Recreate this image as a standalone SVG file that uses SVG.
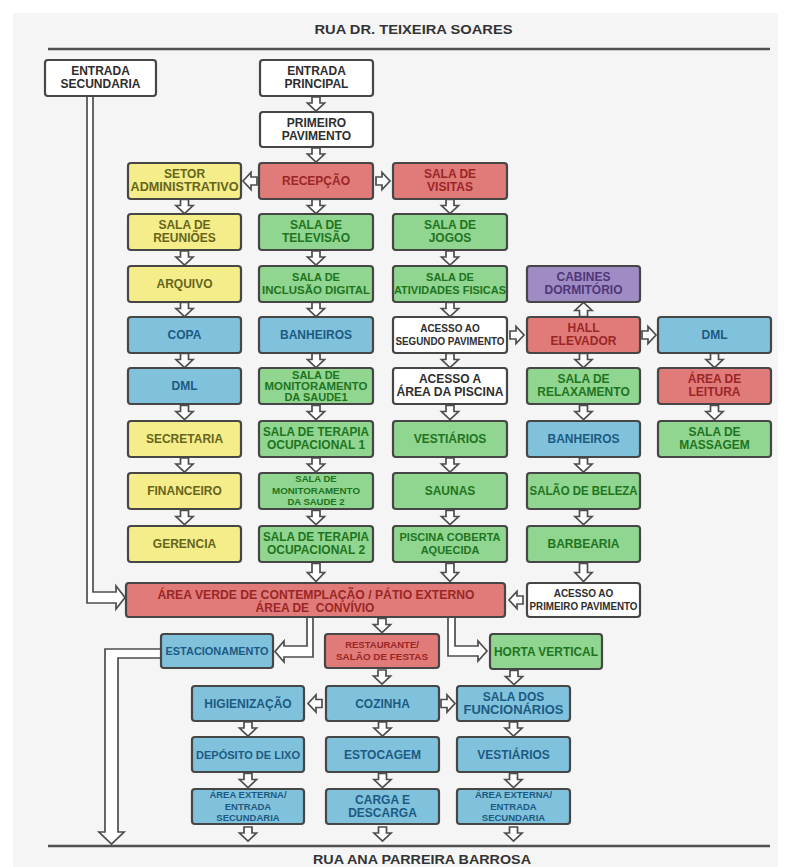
<svg xmlns="http://www.w3.org/2000/svg" xmlns:xlink="http://www.w3.org/1999/xlink" width="809" height="867" viewBox="0 0 809 867">
<style>
.bx{stroke:#464646;stroke-width:2.2}
.Y{fill:#f4ed8a}.R{fill:#e07b79}.G{fill:#90d590}.B{fill:#80c2dc}.P{fill:#a08cc5}.W{fill:#ffffff}
text{font-family:"Liberation Sans",Arial,Helvetica,sans-serif;font-weight:bold;font-size:12px;text-anchor:middle}
.tY{fill:#66651c}.tR{fill:#9a2626}.tG{fill:#1f7420}.tB{fill:#1d5a82}.tP{fill:#4f3678}.tW{fill:#2e2e2e}
.s10{font-size:10px}.s11{font-size:11px}.s95{font-size:9.5px}
.road{stroke:#505050;stroke-width:2.5;fill:none}
.title{font-size:13px;fill:#333}
.cn{fill:#ffffff;stroke:#4d4d4d;stroke-width:1.7}
</style>
<defs>
<path id="a" d="M-4,0 H4 V6 H8.5 L0,14 L-8.5,6 H-4 Z" fill="#ffffff" stroke="#4d4d4d" stroke-width="1.7"/>
<path id="al" d="M-4,0 H4 V9 H8.5 L0,18 L-8.5,9 H-4 Z" fill="#ffffff" stroke="#4d4d4d" stroke-width="1.7"/>
</defs>
<rect x="0" y="0" width="809" height="867" fill="#ffffff"/>
<rect x="13" y="13" width="765" height="854" fill="#f5f5f5"/>

<g id="roads">
<line class="road" x1="48" y1="49" x2="770" y2="49"/>
<line class="road" x1="48" y1="846" x2="770" y2="846"/>
<text class="title" x="413.5" y="34" textLength="198" lengthAdjust="spacingAndGlyphs">RUA DR. TEIXEIRA SOARES</text>
<text class="title" x="422" y="864" textLength="218" lengthAdjust="spacingAndGlyphs">RUA ANA PARREIRA BARROSA</text>
</g>

<g id="connectors">
<path class="cn" d="M87,96 V603 H116 V609 L125,597.5 L116,586 V592 H93 V96 Z"/>
<path class="cn" d="M307,617 V646 H284 V641 L275,651.5 L284,662 V657 H313 V617 Z"/>
<path class="cn" d="M448,617 V656 H478 V661 L487,651 L478,641 V646 H455 V617 Z"/>
<path class="cn" d="M161,649 H105 V832 H99 L111.5,844 L124,832 H118 V658 H161 Z"/>
<use xlink:href="#a" transform="translate(316,97)"/>
<use xlink:href="#a" transform="translate(316,148)"/>
<use xlink:href="#a" transform="translate(184.5,199.5)"/>
<use xlink:href="#a" transform="translate(184.5,251)"/>
<use xlink:href="#a" transform="translate(184.5,302.5)"/>
<use xlink:href="#a" transform="translate(184.5,353.5)"/>
<use xlink:href="#a" transform="translate(184.5,405.5)"/>
<use xlink:href="#a" transform="translate(184.5,458)"/>
<use xlink:href="#a" transform="translate(184.5,510.5)"/>
<use xlink:href="#a" transform="translate(316,199.5)"/>
<use xlink:href="#a" transform="translate(316,251)"/>
<use xlink:href="#a" transform="translate(316,302.5)"/>
<use xlink:href="#a" transform="translate(316,353.5)"/>
<use xlink:href="#a" transform="translate(316,405.5)"/>
<use xlink:href="#a" transform="translate(316,458)"/>
<use xlink:href="#a" transform="translate(316,510.5)"/>
<use xlink:href="#al" transform="translate(316,563.5)"/>
<use xlink:href="#a" transform="translate(450,199.5)"/>
<use xlink:href="#a" transform="translate(450,251)"/>
<use xlink:href="#a" transform="translate(450,302.5)"/>
<use xlink:href="#a" transform="translate(450,353.5)"/>
<use xlink:href="#a" transform="translate(450,405.5)"/>
<use xlink:href="#a" transform="translate(450,458)"/>
<use xlink:href="#a" transform="translate(450,510.5)"/>
<use xlink:href="#al" transform="translate(450,563.5)"/>
<use xlink:href="#a" transform="translate(583.5,316.5) rotate(180)"/>
<use xlink:href="#a" transform="translate(583.5,353.5)"/>
<use xlink:href="#a" transform="translate(583.5,405.5)"/>
<use xlink:href="#a" transform="translate(583.5,458)"/>
<use xlink:href="#a" transform="translate(583.5,510.5)"/>
<use xlink:href="#al" transform="translate(583.5,563.5)"/>
<use xlink:href="#a" transform="translate(714.5,353.5)"/>
<use xlink:href="#a" transform="translate(714.5,405.5)"/>
<use xlink:href="#a" transform="translate(257,181) rotate(90)"/>
<use xlink:href="#a" transform="translate(376,181) rotate(-90)"/>
<use xlink:href="#a" transform="translate(510,335) rotate(-90)"/>
<use xlink:href="#a" transform="translate(642,335) rotate(-90)"/>
<use xlink:href="#a" transform="translate(523,600) rotate(90)"/>
<use xlink:href="#a" transform="translate(382,618.5)"/>
<use xlink:href="#a" transform="translate(382,670)"/>
<use xlink:href="#a" transform="translate(514,670.5)"/>
<use xlink:href="#a" transform="translate(322,703.5) rotate(90)"/>
<use xlink:href="#a" transform="translate(441,703.5) rotate(-90)"/>
<use xlink:href="#a" transform="translate(248,722)"/>
<use xlink:href="#a" transform="translate(382.5,722)"/>
<use xlink:href="#a" transform="translate(513.5,722)"/>
<use xlink:href="#a" transform="translate(248,773.5)"/>
<use xlink:href="#a" transform="translate(382.5,773.5)"/>
<use xlink:href="#a" transform="translate(513.5,773.5)"/>
<use xlink:href="#a" transform="translate(248,827)"/>
<use xlink:href="#a" transform="translate(382.5,827)"/>
<use xlink:href="#a" transform="translate(513.5,827)"/>
</g>

<!-- top -->
<g id="entrada-secundaria"><rect class="bx W" x="45" y="60" width="111" height="36" rx="3"/><text class="tW" x="100.5" y="75">ENTRADA</text><text class="tW" x="100.5" y="88">SECUNDARIA</text></g>
<g id="entrada-principal"><rect class="bx W" x="260" y="60" width="113" height="36" rx="3"/><text class="tW" x="316.5" y="75">ENTRADA</text><text class="tW" x="316.5" y="88">PRINCIPAL</text></g>
<g id="primeiro-pavimento"><rect class="bx W" x="260" y="112" width="113" height="35" rx="3"/><text class="tW" x="316.5" y="126.5">PRIMEIRO</text><text class="tW" x="316.5" y="139.5">PAVIMENTO</text></g>

<!-- column 1 -->
<g id="setor-administrativo"><rect class="bx Y" x="128" y="163" width="113" height="36" rx="3"/><text class="tY" x="184.5" y="178">SETOR</text><text class="tY" x="184.5" y="191" textLength="108" lengthAdjust="spacingAndGlyphs">ADMINISTRATIVO</text></g>
<g id="sala-reunioes"><rect class="bx Y" x="128" y="214" width="113" height="36" rx="3"/><text class="tY" x="184.5" y="229">SALA DE</text><text class="tY" x="184.5" y="242">REUNIÕES</text></g>
<g id="arquivo"><rect class="bx Y" x="128" y="266" width="113" height="36" rx="3"/><text class="tY" x="184.5" y="288">ARQUIVO</text></g>
<g id="copa"><rect class="bx B" x="128" y="317" width="113" height="36" rx="3"/><text class="tB" x="184.5" y="339">COPA</text></g>
<g id="dml-1"><rect class="bx B" x="128" y="368" width="113" height="36" rx="3"/><text class="tB" x="184.5" y="390">DML</text></g>
<g id="secretaria"><rect class="bx Y" x="128" y="421" width="113" height="36" rx="3"/><text class="tY" x="184.5" y="443">SECRETARIA</text></g>
<g id="financeiro"><rect class="bx Y" x="128" y="473" width="113" height="36" rx="3"/><text class="tY" x="184.5" y="495">FINANCEIRO</text></g>
<g id="gerencia"><rect class="bx Y" x="128" y="526" width="113" height="36" rx="3"/><text class="tY" x="184.5" y="548">GERENCIA</text></g>

<!-- column 2 -->
<g id="recepcao"><rect class="bx R" x="259" y="163" width="114" height="36" rx="3"/><text class="tR" x="316" y="185">RECEPÇÃO</text></g>
<g id="sala-televisao"><rect class="bx G" x="259" y="214" width="114" height="36" rx="3"/><text class="tG" x="316" y="229">SALA DE</text><text class="tG" x="316" y="242">TELEVISÃO</text></g>
<g id="sala-inclusao"><rect class="bx G" x="259" y="266" width="114" height="36" rx="3"/><text class="tG s11" x="316" y="281">SALA DE</text><text class="tG s11" x="316" y="294" textLength="108" lengthAdjust="spacingAndGlyphs">INCLUSÃO DIGITAL</text></g>
<g id="banheiros-1"><rect class="bx B" x="259" y="317" width="114" height="36" rx="3"/><text class="tB" x="316" y="339">BANHEIROS</text></g>
<g id="monitoramento-1"><rect class="bx G" x="259" y="368" width="114" height="36" rx="3"/><text class="tG s11" x="316" y="379">SALA DE</text><text class="tG s11" x="316" y="390" textLength="103" lengthAdjust="spacingAndGlyphs">MONITORAMENTO</text><text class="tG s11" x="316" y="401">DA SAUDE1</text></g>
<g id="terapia-1"><rect class="bx G" x="259" y="421" width="114" height="36" rx="3"/><text class="tG" x="316" y="436" textLength="106" lengthAdjust="spacingAndGlyphs">SALA DE TERAPIA</text><text class="tG" x="316" y="449">OCUPACIONAL 1</text></g>
<g id="monitoramento-2"><rect class="bx G" x="259" y="473" width="114" height="36" rx="3"/><text class="tG s95" x="316" y="482">SALA DE</text><text class="tG s95" x="316" y="493.5" textLength="88" lengthAdjust="spacingAndGlyphs">MONITORAMENTO</text><text class="tG s95" x="316" y="505">DA SAUDE 2</text></g>
<g id="terapia-2"><rect class="bx G" x="259" y="526" width="114" height="36" rx="3"/><text class="tG" x="316" y="541" textLength="106" lengthAdjust="spacingAndGlyphs">SALA DE TERAPIA</text><text class="tG" x="316" y="554">OCUPACIONAL 2</text></g>

<!-- column 3 -->
<g id="sala-visitas"><rect class="bx R" x="393" y="163" width="114" height="36" rx="3"/><text class="tR" x="450" y="178">SALA DE</text><text class="tR" x="450" y="191">VISITAS</text></g>
<g id="sala-jogos"><rect class="bx G" x="393" y="214" width="114" height="36" rx="3"/><text class="tG" x="450" y="229">SALA DE</text><text class="tG" x="450" y="242">JOGOS</text></g>
<g id="sala-atividades"><rect class="bx G" x="393" y="266" width="114" height="36" rx="3"/><text class="tG s11" x="450" y="281">SALA DE</text><text class="tG s11" x="450" y="294" textLength="112" lengthAdjust="spacingAndGlyphs">ATIVIDADES FISICAS</text></g>
<g id="acesso-segundo"><rect class="bx W" x="393" y="317" width="114" height="36" rx="3"/><text class="tW s10" x="450" y="332">ACESSO AO</text><text class="tW s10" x="450" y="344.5" textLength="109" lengthAdjust="spacingAndGlyphs">SEGUNDO PAVIMENTO</text></g>
<g id="acesso-piscina"><rect class="bx W" x="393" y="368" width="114" height="36" rx="3"/><text class="tW" x="450" y="383">ACESSO A</text><text class="tW" x="450" y="396" textLength="107" lengthAdjust="spacingAndGlyphs">ÁREA DA PISCINA</text></g>
<g id="vestiarios-1"><rect class="bx G" x="393" y="421" width="114" height="36" rx="3"/><text class="tG" x="450" y="443">VESTIÁRIOS</text></g>
<g id="saunas"><rect class="bx G" x="393" y="473" width="114" height="36" rx="3"/><text class="tG" x="450" y="495">SAUNAS</text></g>
<g id="piscina"><rect class="bx G" x="393" y="526" width="114" height="36" rx="3"/><text class="tG s11" x="450" y="541" textLength="101" lengthAdjust="spacingAndGlyphs">PISCINA COBERTA</text><text class="tG s11" x="450" y="553.5">AQUECIDA</text></g>

<!-- column 4 -->
<g id="cabines"><rect class="bx P" x="527" y="266" width="113" height="36" rx="3"/><text class="tP" x="583.5" y="281">CABINES</text><text class="tP" x="583.5" y="294">DORMITÓRIO</text></g>
<g id="hall-elevador"><rect class="bx R" x="527" y="317" width="113" height="36" rx="3"/><text class="tR" x="583.5" y="332">HALL</text><text class="tR" x="583.5" y="345">ELEVADOR</text></g>
<g id="sala-relaxamento"><rect class="bx G" x="527" y="368" width="113" height="36" rx="3"/><text class="tG" x="583.5" y="383">SALA DE</text><text class="tG" x="583.5" y="396">RELAXAMENTO</text></g>
<g id="banheiros-2"><rect class="bx B" x="527" y="421" width="113" height="36" rx="3"/><text class="tB" x="583.5" y="443">BANHEIROS</text></g>
<g id="salao-beleza"><rect class="bx G" x="527" y="473" width="113" height="36" rx="3"/><text class="tG" x="583.5" y="495" textLength="108" lengthAdjust="spacingAndGlyphs">SALÃO DE BELEZA</text></g>
<g id="barbearia"><rect class="bx G" x="527" y="526" width="113" height="36" rx="3"/><text class="tG" x="583.5" y="548">BARBEARIA</text></g>
<g id="acesso-primeiro"><rect class="bx W" x="527" y="583" width="113" height="34" rx="3"/><text class="tW s10" x="583.5" y="597">ACESSO AO</text><text class="tW s10" x="583.5" y="609.5" textLength="108" lengthAdjust="spacingAndGlyphs">PRIMEIRO PAVIMENTO</text></g>

<!-- column 5 -->
<g id="dml-2"><rect class="bx B" x="658" y="317" width="113" height="36" rx="3"/><text class="tB" x="714.5" y="339">DML</text></g>
<g id="area-leitura"><rect class="bx R" x="658" y="368" width="113" height="36" rx="3"/><text class="tR" x="714.5" y="383">ÁREA DE</text><text class="tR" x="714.5" y="396">LEITURA</text></g>
<g id="sala-massagem"><rect class="bx G" x="658" y="421" width="113" height="36" rx="3"/><text class="tG" x="714.5" y="436">SALA DE</text><text class="tG" x="714.5" y="449">MASSAGEM</text></g>

<!-- bar -->
<g id="area-verde"><rect class="bx R" x="126" y="583" width="379" height="34" rx="3"/><text class="tR" x="316" y="599" textLength="317" lengthAdjust="spacingAndGlyphs">ÁREA VERDE DE CONTEMPLAÇÃO / PÁTIO EXTERNO</text><text class="tR" x="315" y="611.5" xml:space="preserve">ÁREA DE  CONVÍVIO</text></g>

<!-- bottom -->
<g id="estacionamento"><rect class="bx B" x="161" y="634" width="112" height="34" rx="3"/><text class="tB s11" x="217" y="655" textLength="103" lengthAdjust="spacingAndGlyphs">ESTACIONAMENTO</text></g>
<g id="restaurante"><rect class="bx R" x="325" y="634" width="114" height="34" rx="3"/><text class="tR s95" x="382" y="648">RESTAURANTE/</text><text class="tR s95" x="382" y="660" textLength="92" lengthAdjust="spacingAndGlyphs">SALÃO DE FESTAS</text></g>
<g id="horta"><rect class="bx G" x="490" y="634" width="112" height="35" rx="3"/><text class="tG" x="546" y="655.5" textLength="104" lengthAdjust="spacingAndGlyphs">HORTA VERTICAL</text></g>
<g id="higienizacao"><rect class="bx B" x="192" y="686" width="112" height="35" rx="3"/><text class="tB" x="248" y="707.5">HIGIENIZAÇÃO</text></g>
<g id="cozinha"><rect class="bx B" x="326" y="686" width="113" height="35" rx="3"/><text class="tB" x="382.5" y="707.5">COZINHA</text></g>
<g id="sala-funcionarios"><rect class="bx B" x="457" y="686" width="113" height="35" rx="3"/><text class="tB" x="513.5" y="700.5">SALA DOS</text><text class="tB" x="513.5" y="713.5" textLength="100" lengthAdjust="spacingAndGlyphs">FUNCIONÁRIOS</text></g>
<g id="deposito-lixo"><rect class="bx B" x="192" y="737" width="112" height="35" rx="3"/><text class="tB s11" x="248" y="758.5" textLength="104" lengthAdjust="spacingAndGlyphs">DEPÓSITO DE LIXO</text></g>
<g id="estocagem"><rect class="bx B" x="326" y="737" width="113" height="35" rx="3"/><text class="tB" x="382.5" y="758.5">ESTOCAGEM</text></g>
<g id="vestiarios-2"><rect class="bx B" x="457" y="737" width="113" height="35" rx="3"/><text class="tB" x="513.5" y="758.5">VESTIÁRIOS</text></g>
<g id="area-externa-1"><rect class="bx B" x="192" y="789" width="112" height="35" rx="3"/><text class="tB s95" x="248" y="798">ÁREA EXTERNA/</text><text class="tB s95" x="248" y="810">ENTRADA</text><text class="tB s95" x="248" y="821">SECUNDARIA</text></g>
<g id="carga-descarga"><rect class="bx B" x="326" y="789" width="113" height="35" rx="3"/><text class="tB" x="382.5" y="803.5">CARGA E</text><text class="tB" x="382.5" y="816.5">DESCARGA</text></g>
<g id="area-externa-2"><rect class="bx B" x="457" y="789" width="113" height="35" rx="3"/><text class="tB s95" x="513.5" y="798">ÁREA EXTERNA/</text><text class="tB s95" x="513.5" y="810">ENTRADA</text><text class="tB s95" x="513.5" y="821">SECUNDARIA</text></g>
</svg>
